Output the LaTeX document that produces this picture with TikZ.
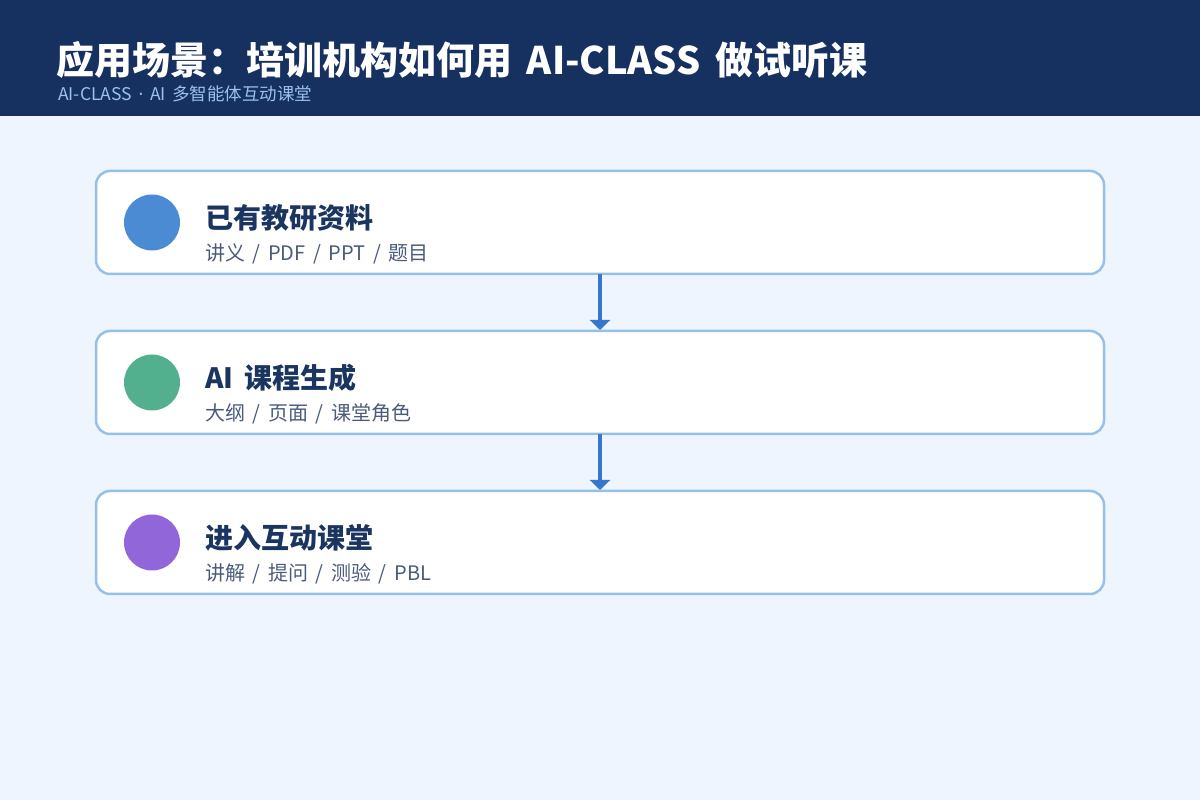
\documentclass[tikz,border=0pt]{standalone}
\usepackage{fontspec}
\setmainfont[WordSpace=1.7]{Noto Sans CJK SC}
\newfontfamily\latinfont{Noto Sans}
\usetikzlibrary{arrows.meta,positioning,calc}

\definecolor{pagebg}{HTML}{EEF5FE}
\definecolor{headbg}{HTML}{163060}
\definecolor{headsub}{HTML}{9CC2EC}
\definecolor{boxline}{HTML}{98BFE6}
\definecolor{navy}{HTML}{1B3561}
\definecolor{slate}{HTML}{4B5B7A}
\definecolor{flow}{HTML}{3777CC}
\definecolor{dotblue}{HTML}{4A8BD4}
\definecolor{dotgreen}{HTML}{52B08F}
\definecolor{dotpurple}{HTML}{9066D8}

\begin{document}
\begin{tikzpicture}[
  x=1pt, y=1pt,
  node distance=57pt,
  stepbox/.style={rectangle, rounded corners=14pt, draw=boxline, line width=2.5pt, fill=white, minimum width=1008pt, minimum height=103pt, outer sep=0pt},
  dot/.style={circle, minimum size=56pt, inner sep=0pt, outer sep=0pt},
  head/.style={anchor=base west, inner sep=0pt, text=navy, font=\fontsize{28}{32}\selectfont\bfseries},
  sub/.style={anchor=base west, inner sep=0pt, text=slate, font=\fontsize{20}{24}\selectfont},
  arrow/.style={-{Triangle[width=20pt, length=10pt]}, line width=4pt, draw=flow, shorten >=1pt}
]
  \useasboundingbox[fill=pagebg] (0,0) rectangle (1200,800);
  \fill[headbg] (0,684) rectangle (1200,800);
  \node[anchor=base west, inner sep=0pt, text=white, font=\fontsize{38}{42}\selectfont\bfseries] (title) at (56,725) {应用场景：培训机构如何用 AI-CLASS 做试听课};
  \node[anchor=base west, inner sep=0pt, text=headsub, font=\fontsize{17.5}{20}\selectfont] (subtitle) at (58,699) {AI-CLASS {\latinfont ·} AI 多智能体互动课堂};

  \node[stepbox] (s1) at (600,577.5) {};
  \node[stepbox, below=of s1] (s2) {};
  \node[stepbox, below=of s2] (s3) {};

  \node[dot, fill=dotblue, right=28pt of s1.west] (c1) {};
  \node[dot, fill=dotgreen, right=28pt of s2.west] (c2) {};
  \node[dot, fill=dotpurple, right=28pt of s3.west] (c3) {};

  \node[head] (h1) at ($(s1.west)+(109,-6)$) {已有教研资料};
  \node[sub] (d1) at ($(s1.west)+(109,-38)$) {讲义 / PDF / PPT / 题目};
  \node[head] (h2) at ($(s2.west)+(109,-6)$) {AI 课程生成};
  \node[sub] (d2) at ($(s2.west)+(109,-38)$) {大纲 / 页面 / 课堂角色};
  \node[head] (h3) at ($(s3.west)+(109,-6)$) {进入互动课堂};
  \node[sub] (d3) at ($(s3.west)+(109,-38)$) {讲解 / 提问 / 测验 / PBL};

  \draw[arrow] (s1) -- (s2);
  \draw[arrow] (s2) -- (s3);
\end{tikzpicture}
\end{document}
